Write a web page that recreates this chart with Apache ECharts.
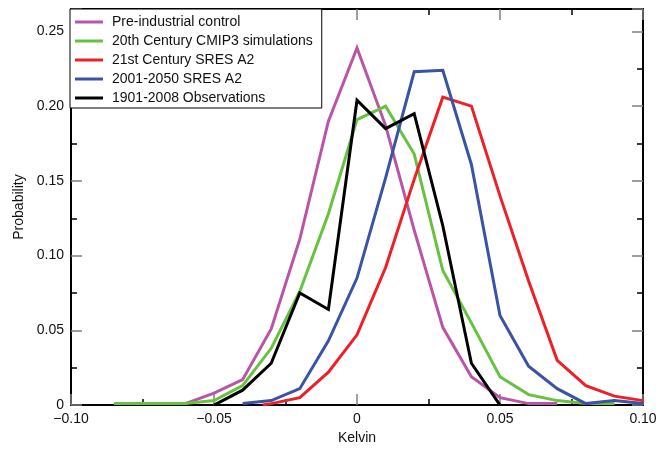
<!DOCTYPE html>
<html>
<head>
<meta charset="utf-8">
<script src="https://cdn.jsdelivr.net/npm/echarts@6/dist/echarts.min.js"></script>
<style>html,body{margin:0;padding:0;background:#fff}#c{width:663px;height:450px}</style>
</head>
<body>
<div id="c"></div>
<script>
const seriesNames = ['Pre-industrial control','20th Century CMIP3 simulations','21st Century SRES A2','2001-2050 SRES A2','1901-2008 Observations'];

const preX = [-0.06,-0.05,-0.04,-0.03,-0.02,-0.01,0,0.01,0.02,0.03,0.04,0.05,0.06,0.07];
const preY = [0.001,0.008,0.017,0.051,0.111,0.190,0.239,0.187,0.117,0.052,0.019,0.005,0.001,0.001];

const c20X = [-0.085,-0.07,-0.06,-0.05,-0.04,-0.03,-0.02,-0.01,0,0.01,0.02,0.03,0.04,0.05,0.06,0.07,0.08,0.09];
const c20Y = [0.001,0.001,0.001,0.003,0.013,0.038,0.076,0.128,0.191,0.200,0.168,0.090,0.055,0.019,0.007,0.003,0.001,0.001];

const c21X = [-0.033,-0.03,-0.02,-0.01,0,0.01,0.02,0.03,0.04,0.05,0.06,0.07,0.08,0.09,0.1];
const c21Y = [0,0.001,0.005,0.022,0.047,0.092,0.151,0.206,0.200,0.140,0.083,0.030,0.013,0.006,0.003];

const a2X = [-0.04,-0.03,-0.02,-0.01,0,0.01,0.02,0.03,0.04,0.05,0.06,0.07,0.08,0.085,0.09,0.095,0.1];
const a2Y = [0.001,0.003,0.011,0.043,0.085,0.152,0.223,0.224,0.161,0.060,0.026,0.011,0.001,0.002,0.003,0.002,0.001];

const obsX = [-0.05,-0.04,-0.03,-0.02,-0.01,0,0.01,0.02,0.03,0.04,0.05];
const obsY = [0,0.010,0.028,0.075,0.064,0.204,0.185,0.195,0.120,0.028,0];

const colors = ['#b955a9','#66c23f','#ee2027','#3a53a4','#000000'];
const xs = [preX,c20X,c21X,a2X,obsX];
const ys = [preY,c20Y,c21Y,a2Y,obsY];

const FONT = 'Liberation Sans, Arial, Helvetica, sans-serif';

function xFmt(v){
  if (Math.abs(v) < 1e-9) return '0';
  return (v < 0 ? '\u2212' : '') + Math.abs(v).toFixed(2);
}
function yFmt(v){
  const k = v / 0.05;
  if (Math.abs(k - Math.round(k)) > 1e-6) return '';
  if (Math.abs(v) < 1e-9) return '0';
  return v.toFixed(2);
}

const majorTick = {show:true, inside:true, length:11, lineStyle:{color:'#808080', width:1.5}};
const minorTick = {show:true, splitNumber:2, length:6, lineStyle:{color:'#000', width:1.5}};
const axisLine = {show:true, onZero:false, lineStyle:{color:'#000', width:2}};

const chart = echarts.init(document.getElementById('c'), null, {renderer:'canvas'});
chart.setOption({
  animation:false,
  backgroundColor:'#fff',
  grid:{left:71, right:20, top:9, bottom:40},
  legend:{
    orient:'vertical', left:70, top:9,
    data:seriesNames,
    icon:'rect', itemWidth:28, itemHeight:3, itemGap:5,
    padding:[6,9,3,5],
    borderColor:'#000', borderWidth:1, backgroundColor:'#fff',
    textStyle:{fontFamily:FONT, fontSize:14, color:'#111', lineHeight:14, padding:[0,0,0,4]}
  },
  xAxis:[
    {type:'value', position:'bottom', min:-0.1, max:0.1, interval:0.05,
     axisLine:axisLine, axisTick:majorTick, minorTick:minorTick, splitLine:{show:false},
     axisLabel:{formatter:xFmt, fontFamily:FONT, fontSize:14, color:'#111', margin:7, showMinLabel:true, showMaxLabel:true},
     name:'Kelvin', nameLocation:'middle', nameGap:21,
     nameTextStyle:{fontFamily:FONT, fontSize:14, color:'#111'}},
    {type:'value', position:'top', min:-0.1, max:0.1, interval:0.05,
     axisLine:axisLine, axisTick:majorTick, minorTick:minorTick, splitLine:{show:false},
     axisLabel:{show:false}}
  ],
  yAxis:[
    {type:'value', position:'left', min:0, max:0.265, interval:0.05,
     axisLine:axisLine, axisTick:majorTick, minorTick:minorTick, splitLine:{show:false},
     axisLabel:{formatter:yFmt, fontFamily:FONT, fontSize:14, color:'#111', margin:7, showMaxLabel:false},
     name:'Probability', nameLocation:'middle', nameGap:38, nameRotate:90,
     nameTextStyle:{fontFamily:FONT, fontSize:14, color:'#111'}},
    {type:'value', position:'right', min:0, max:0.265, interval:0.05,
     axisLine:axisLine, axisTick:majorTick, minorTick:minorTick, splitLine:{show:false},
     axisLabel:{show:false}}
  ],
  series: seriesNames.map((n,i)=>({
    name:n, type:'line', xAxisIndex:0, yAxisIndex:0,
    data: xs[i].map((x,j)=>[x, ys[i][j]]),
    symbol:'none', color:colors[i],
    lineStyle:{color:colors[i], width:3, join:'miter'},
    z: 2 + i
  }))
});
</script>
</body>
</html>
